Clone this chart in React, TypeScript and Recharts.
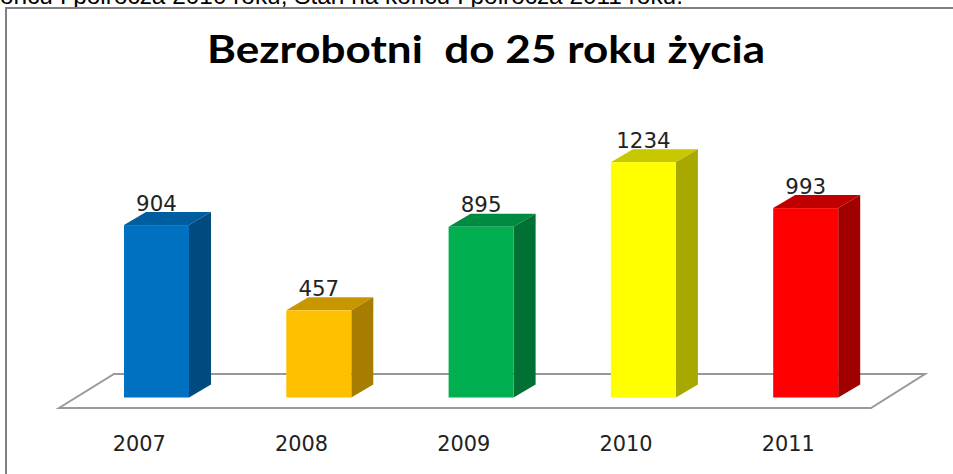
import React from 'react'
import { BarChart, Bar, XAxis, YAxis, LabelList } from 'recharts'

const YEARS = ['2007', '2008', '2009', '2010', '2011']
const VALUES = [904, 457, 895, 1234, 993]
const FRONT_COLORS = ['#0070C0', '#FFC000', '#00B050', '#FFFF00', '#FF0000']
const TOP_COLORS = ['#005DA0', '#C89700', '#008C40', '#C8C800', '#C00000']
const SIDE_COLORS = ['#004A80', '#A67D00', '#007035', '#A8A800', '#A00000']

const TITLE = 'Bezrobotni  do 25 roku życia'
const CUT_OFF_TEXT = 'ońcu I półrocza 2010 roku; Stan na końcu I półrocza 2011 roku.'

const data = YEARS.map((year, i) => ({
  year,
  value: VALUES[i],
  front: FRONT_COLORS[i],
  top: TOP_COLORS[i],
  side: SIDE_COLORS[i],
}))

const DX = 22
const DY = 13
const LABEL_FONT = 'DejaVu Sans'

// fake 3D column: front face plus top and side faces
const Column3D = (props: any) => {
  const { x, y, width, height, payload } = props
  const r = x + width
  const b = y + height
  return (
    <g>
      <polygon points={`${x},${y} ${x + DX},${y - DY} ${r + DX},${y - DY} ${r},${y}`} fill={payload.top} />
      <polygon points={`${r},${y} ${r + DX},${y - DY} ${r + DX},${b - DY} ${r},${b}`} fill={payload.side} />
      <rect x={x} y={y} width={width} height={height} fill={payload.front} />
    </g>
  )
}

// labels in the original are stretched sideways, textLength does the same
const YearTick = (props: any) => (
  <text
    x={props.x - 17}
    y={450.5}
    textAnchor="middle"
    fontFamily={LABEL_FONT}
    fontSize={20.5}
    fill="#222"
    textLength={53}
    lengthAdjust="spacingAndGlyphs"
  >
    {props.payload.value}
  </text>
)

const ValueLabel = (props: any) => {
  const { x, y, width, value } = props
  return (
    <text
      x={x + width / 2}
      y={y - 14.5}
      textAnchor="middle"
      fontFamily={LABEL_FONT}
      fontSize={20.5}
      fill="#222"
      textLength={String(value).length * 13.6}
      lengthAdjust="spacingAndGlyphs"
    >
      {value}
    </text>
  )
}

export default function App() {
  return (
    <div style={{ position: 'absolute', left: 0, top: 0, width: 953, height: 474, background: '#fff', overflow: 'hidden' }}>
      <BarChart
        width={953}
        height={474}
        data={data}
        margin={{ top: 130.5, right: 66.5, bottom: 46.5, left: 75 }}
      >
        <text x={0} y={4} fontFamily="'Liberation Sans'" fontSize={24.4} fill="#000">{CUT_OFF_TEXT}</text>
        <path d="M6 474 V8 H953" fill="none" stroke="#808080" strokeWidth={2} />
        <text
          x={486}
          y={63}
          textAnchor="middle"
          fontFamily="Lato"
          fontWeight={700}
          fontSize={38}
          fill="#000"
          textLength={558}
          lengthAdjust="spacingAndGlyphs"
          style={{ whiteSpace: 'pre' }}
        >
          {TITLE}
        </text>
        <polygon points="59,408 114,374 925,374 871,408" fill="#fff" stroke="#999" strokeWidth={2} />
        <XAxis dataKey="year" height={30} axisLine={false} tickLine={false} tick={YearTick} interval={0} />
        <YAxis hide domain={[0, 1400]} />
        <Bar dataKey="value" barSize={65} shape={Column3D} isAnimationActive={false}>
          <LabelList dataKey="value" content={ValueLabel} />
        </Bar>
      </BarChart>
    </div>
  )
}
